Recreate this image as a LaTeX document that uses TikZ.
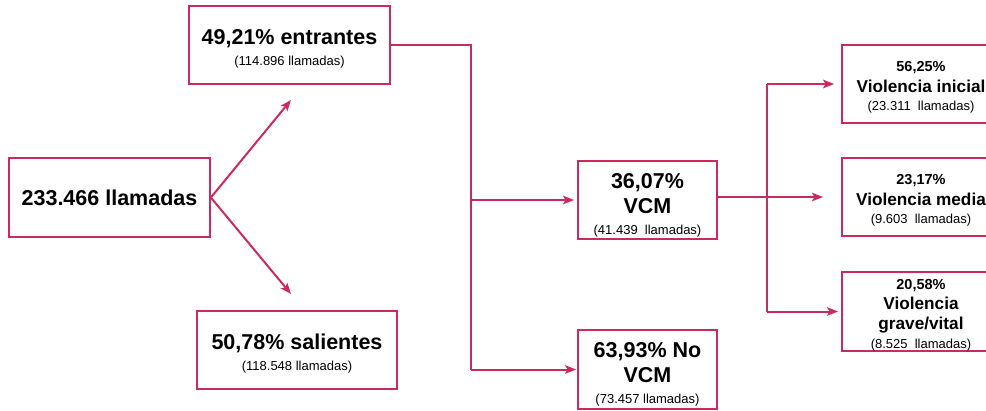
\documentclass[tikz,border=0pt]{standalone}
\usepackage{fontspec}
\setmainfont{Liberation Sans}
\usetikzlibrary{arrows.meta}
\definecolor{vcmred}{RGB}{204,42,92}
\newcommand{\bigtxt}{\fontsize{21.5}{25}\selectfont\bfseries}
\newcommand{\pcttxt}{\fontsize{14.5}{18}\selectfont\bfseries}
\newcommand{\midtxt}{\fontsize{17.2}{20}\selectfont\bfseries}
\newcommand{\smalltxt}{\fontsize{13}{15}\selectfont}
\newcommand{\topgap}[1]{\rule{0pt}{#1}}
\tikzset{
  callbox/.style={draw=vcmred, line width=1.8pt, fill=white, align=center, inner sep=0pt,
    font=\fontsize{12}{21}\selectfont},
  flow/.style={draw=vcmred, line width=2pt},
  arr/.style={flow, -{Stealth[length=11pt,width=8.5pt,inset=2.5pt]}}
}
\begin{document}
\begin{tikzpicture}[x=1pt, y=-1pt]
  \useasboundingbox (0,0) rectangle (986,410);
  \clip (0,0) rectangle (986,410);
  % total calls
  \node[callbox, minimum width=201pt, minimum height=79pt] (total) at (109.5,197.5)
    {\bigtxt 233.466 llamadas};
  \node[callbox, minimum width=201pt, minimum height=78pt] (entr) at (289.5,45)
    {\topgap{22pt}{\bigtxt 49,21\% entrantes}\\{\smalltxt (114.896 llamadas)}};
  \node[callbox, minimum width=200pt, minimum height=78pt] (sal) at (297,350)
    {\topgap{22pt}{\bigtxt 50,78\% salientes}\\{\smalltxt (118.548 llamadas)}};
  \coordinate (upEnd) at (291,100);
  \coordinate (downEnd) at (291,294);
  \draw[arr] (total.east) -- (upEnd);
  \draw[arr] (total.east) -- (downEnd);
  % incoming split
  \node[callbox, minimum width=139pt, minimum height=78pt] (vcm) at (647.5,200)
    {\topgap{25pt}{\bigtxt 36,07\%}\\[4pt]{\bigtxt VCM}\\{\smalltxt (41.439\ \ llamadas)}};
  \node[callbox, minimum width=139pt, minimum height=79pt] (novcm) at (647.5,369.5)
    {\topgap{24pt}{\bigtxt 63,93\% No}\\[4pt]{\bigtxt VCM}\\{\smalltxt (73.457 llamadas)}};
  \coordinate (splitA) at (471,0);
  \draw[flow] (entr.east) -- (entr.east -| splitA) -- (splitA |- novcm.west);
  \draw[arr] (splitA |- vcm.west) -- ([xshift=-3pt]vcm.west);
  \draw[arr] (splitA |- novcm.west) -- ([xshift=-1pt]novcm.west);
  % violence levels
  \node[callbox, minimum width=158pt, minimum height=78pt] (ini) at (921,84)
    {\topgap{17pt}{\pcttxt 56,25\%}\\{\midtxt Violencia inicial}\\[-3pt]{\smalltxt (23.311\ \ llamadas)}};
  \node[callbox, minimum width=158pt, minimum height=78pt] (med) at (921,197)
    {\topgap{17pt}{\pcttxt 23,17\%}\\{\midtxt Violencia media}\\[-3pt]{\smalltxt (9.603\ \ llamadas)}};
  \node[callbox, minimum width=158pt, minimum height=79pt] (grave) at (921,311.5)
    {\topgap{17pt}{\pcttxt 20,58\%}\\[-1pt]{\midtxt Violencia}\\[-1pt]{\midtxt grave/vital}\\[-2pt]{\smalltxt (8.525\ \ llamadas)}};
  \coordinate (splitB) at (767,0);
  \coordinate (medEnd) at (823,197);
  \draw[arr] (vcm.east |- medEnd) -- (medEnd);
  \draw[flow] (splitB |- ini.west) -- (splitB |- grave.west);
  \draw[arr] (splitB |- ini.west) -- ([xshift=-7pt]ini.west);
  \draw[arr] (splitB |- grave.west) -- ([xshift=-3pt]grave.west);
\end{tikzpicture}
\end{document}
